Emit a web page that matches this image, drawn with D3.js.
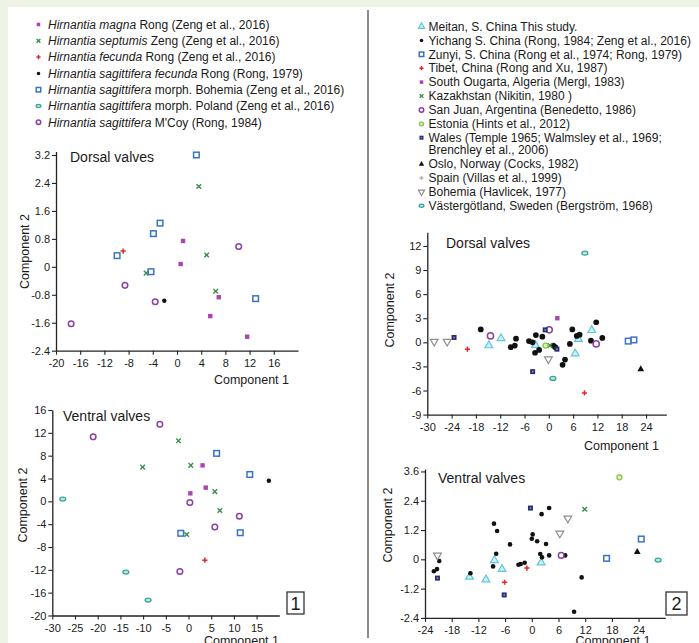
<!DOCTYPE html>
<html>
<head>
<meta charset="utf-8">
<style>
  body { margin: 0; background: #fff; }
  svg text { font-family: "Liberation Sans", Arial, sans-serif; fill: #1a1a1a; }
</style>
</head>
<body>
<script src="https://cdnjs.cloudflare.com/ajax/libs/d3/7.8.5/d3.min.js"></script>
<script>
// ---- legend texts ----
var leftItalic = ["Hirnantia magna", "Hirnantia septumis", "Hirnantia fecunda", "Hirnantia sagittifera fecunda",
                  "Hirnantia sagittifera", "Hirnantia sagittifera", "Hirnantia sagittifera"];
var leftRest = [" Rong (Zeng et al., 2016)", " Zeng (Zeng et al., 2016)", " Rong (Zeng et al., 2016)", " Rong (Rong, 1979)",
                " morph. Bohemia (Zeng et al., 2016)", " morph. Poland (Zeng et al., 2016)", " M'Coy (Rong, 1984)"];
var leftTypes = ["sqFill", "cross", "plus", "dot", "sqOpen", "ellipse", "circOpen"];

var rightLabels = ["Meitan, S. China This study.", "Yichang S. China (Rong, 1984; Zeng et al., 2016)",
  "Zunyi, S. China (Rong et al., 1974; Rong, 1979)", "Tibet, China (Rong and Xu, 1987)",
  "South Ougarta, Algeria (Mergl, 1983)", "Kazakhstan (Nikitin, 1980 )", "San Juan, Argentina (Benedetto, 1986)",
  "Estonia (Hints et al., 2012)", "Wales (Temple 1965; Walmsley et al., 1969;|Brenchley et al., 2006)",
  "Oslo, Norway (Cocks, 1982)", "Spain (Villas et al., 1999)", "Bohemia (Havlicek, 1977)",
  "Västergötland, Sweden (Bergström, 1968)"];
var rightTypes = ["triOpen", "dot", "sqOpen", "plus", "sqFill", "cross", "circOpen", "estonia", "navy", "triFill", "star", "triDown", "ellipse"];

// ---- data: left (species) ----
var leftDorsal = [
  [[1.0,0.74],[0.6,0.08],[6.9,-0.87],[5.5,-1.41],[11.6,-2.0]],
  [[3.6,2.3],[4.9,0.34],[-5.1,-0.18],[6.4,-0.7]],
  [[-8.9,0.45]],
  [[-2.1,-0.97]],
  [[3.2,3.2],[-2.8,1.25],[-3.9,0.95],[-9.9,0.32],[-4.3,-0.14],[13.0,-0.91]],
  [],
  [[10.2,0.58],[-8.6,-0.53],[-3.6,-1.0],[-17.5,-1.63]]
];
var leftVentral = [
  [[3.1,6.3],[3.8,2.4],[0.4,1.4]],
  [[-2.2,10.6],[-10.1,6.0],[0.5,6.3],[5.8,1.7],[6.9,-1.6],[-0.4,-5.8]],
  [[3.6,-10.3]],
  [[17.7,3.6]],
  [[6.2,8.4],[13.5,4.7],[-1.7,-5.6],[11.4,-5.5]],
  [[-27.7,0.4],[-13.8,-12.4],[-8.9,-17.3]],
  [[-6.3,13.5],[-21.0,11.3],[0.3,-0.2],[11.2,-2.6],[5.8,-4.5],[-1.9,-12.3]]
];

// ---- data: right (localities) ----
var rightDorsal = [
  [[-11.8,0.5],[-14.8,-0.4],[-3.3,-0.35],[10.6,1.5],[7.3,0.4],[6.5,-1.4]],
  [[11.7,2.5],[-16.8,1.6],[5.8,1.6],[-8.1,0.45],[-3.2,0.9],[-1.6,0.7],[6.9,0.8],[7.6,0.95],[13.2,0.55],
   [10.4,0.2],[-9.4,-0.6],[-8.4,-0.4],[-4.9,0.15],[-4.0,0.0],[-3.4,-1.3],[-2.4,-0.95],[1.1,-0.4],[1.6,-0.6],
   [5.2,-0.2],[4.0,-2.15],[3.4,-2.8]],
  [[19.6,0.15],[21.0,0.3]],
  [[-20.1,-0.85],[8.8,-6.3]],
  [[2.1,3.0]],
  [[0.3,-0.4]],
  [[-14.4,0.8],[0.1,1.55],[11.7,-0.2]],
  [[-0.8,-0.4]],
  [[-23.4,0.6],[-0.9,1.55],[2.0,-0.85],[-4.0,-3.65]],
  [[22.7,-3.35]],
  [],
  [[-28.3,0.1],[-25.1,0.1],[-0.1,-2.1]],
  [[8.9,11.1],[1.0,-4.5]]
];
var rightVentral = [
  [[-8.4,-0.04],[2.1,-0.14],[-6.7,-0.4],[-14.0,-0.72],[-10.3,-0.83]],
  [[3.9,2.1],[2.2,1.85],[-8.5,1.46],[-7.8,1.16],[0.2,1.02],[0.0,0.84],[1.2,0.74],[-4.9,0.61],[3.2,0.63],
   [-8.0,0.23],[7.5,0.16],[1.9,0.22],[2.3,0.08],[3.9,0.16],[-20.8,-0.07],[-2.5,-0.19],[-3.0,-0.22],
   [-1.6,-0.14],[-8.7,-0.29],[-21.3,-0.4],[-22.0,-0.49],[-13.8,-0.57],[11.2,-0.74],[9.5,-2.15]],
  [[24.6,0.83],[16.8,0.04]],
  [[-1.1,-0.36],[-6.1,-0.94]],
  [],
  [[11.9,2.05]],
  [[6.6,0.16]],
  [[19.7,3.36]],
  [[-0.3,2.1],[-21.2,-0.77],[-6.2,-1.46]],
  [[23.7,0.3]],
  [],
  [[8.1,1.68],[6.3,1.06],[-21.2,0.16]],
  [[28.4,-0.03]]
];

// ---- ticks ----
var p1xTicks = d3.range(-20, 17, 4), p1yTicks = [-2.4,-1.6,-0.8,0,0.8,1.6,2.4,3.2];
var p2xTicks = d3.range(-30, 16, 5), p2yTicks = d3.range(-20, 17, 4);
var p3xTicks = d3.range(-30, 25, 6), p3yTicks = d3.range(-9, 13, 3);
var p4xTicks = d3.range(-24, 25, 6), p4yTicks = [-2.4,-1.2,0,1.2,2.4,3.6];

var svg = d3.select("body").append("svg").attr("width", 699).attr("height", 643);

// frame
svg.append("rect").attr("width", 699).attr("height", 643).attr("fill", "#eef4e5");
svg.append("rect").attr("x", 8).attr("y", 7).attr("width", 691).attr("height", 636).attr("fill", "#fff");
svg.append("line").attr("x1", 368).attr("x2", 368).attr("y1", 10).attr("y2", 638)
   .attr("stroke", "#6e6e6e").attr("stroke-width", 1.6);

var C = { magenta: "#a944b0", green: "#3a8f46", red: "#e3262b", black: "#111", blue: "#3b72c9",
          teal: "#35a398", purple: "#8a3fa3", cyan: "#5ec8dc", lgreen: "#8cc63f", navy: "#2b2d6c", gray: "#8e8e8e" };

function marker(g, type, x, y, s) {
  s = s || 1;
  switch (type) {
    case "sqFill":
      g.append("rect").attr("x", x - 2.2*s).attr("y", y - 2.2*s).attr("width", 4.4*s).attr("height", 4.4*s)
       .attr("fill", C.magenta); break;
    case "cross":
      g.append("path").attr("d", "M"+(x-2.3*s)+","+(y-2.3*s)+"L"+(x+2.3*s)+","+(y+2.3*s)+"M"+(x+2.3*s)+","+(y-2.3*s)+"L"+(x-2.3*s)+","+(y+2.3*s))
       .attr("stroke", C.green).attr("stroke-width", 1.4); break;
    case "plus":
      g.append("path").attr("d", "M"+(x-2.6*s)+","+y+"H"+(x+2.6*s)+"M"+x+","+(y-2.6*s)+"V"+(y+2.6*s))
       .attr("stroke", C.red).attr("stroke-width", 1.5); break;
    case "dot":
      g.append("circle").attr("cx", x).attr("cy", y).attr("r", 2.2*s).attr("fill", C.black); break;
    case "sqOpen":
      g.append("rect").attr("x", x - 2.8*s).attr("y", y - 2.8*s).attr("width", 5.6*s).attr("height", 5.6*s)
       .attr("fill", "#fff").attr("stroke", C.blue).attr("stroke-width", 1.5); break;
    case "ellipse":
      g.append("ellipse").attr("cx", x).attr("cy", y).attr("rx", 3*s).attr("ry", 2*s)
       .attr("fill", "#bfe4df").attr("stroke", C.teal).attr("stroke-width", 1.2); break;
    case "circOpen":
      g.append("circle").attr("cx", x).attr("cy", y).attr("r", 2.8*s)
       .attr("fill", "#fff").attr("stroke", C.purple).attr("stroke-width", 1.5); break;
    case "triOpen":
      g.append("path").attr("d", d3.symbol(d3.symbolTriangle, 26*s*s)()).attr("transform", "translate("+x+","+y+")")
       .attr("fill", "#cdeff5").attr("stroke", C.cyan).attr("stroke-width", 1.2); break;
    case "triFill":
      g.append("path").attr("d", d3.symbol(d3.symbolTriangle, 20*s*s)()).attr("transform", "translate("+x+","+y+")")
       .attr("fill", C.black); break;
    case "triDown":
      g.append("path").attr("d", d3.symbol(d3.symbolTriangle, 26*s*s)()).attr("transform", "translate("+x+","+y+") rotate(180)")
       .attr("fill", "#fff").attr("stroke", C.gray).attr("stroke-width", 1.2); break;
    case "estonia":
      g.append("circle").attr("cx", x).attr("cy", y).attr("r", 2.5*s)
       .attr("fill", "#dff0c8").attr("stroke", C.lgreen).attr("stroke-width", 1.3); break;
    case "navy":
      g.append("rect").attr("x", x - 2.5*s).attr("y", y - 2.5*s).attr("width", 5*s).attr("height", 5*s)
       .attr("fill", C.navy); 
      g.append("rect").attr("x", x - 0.8*s).attr("y", y - 0.8*s).attr("width", 1.6*s).attr("height", 1.6*s)
       .attr("fill", "#8c8fc4"); break;
    case "star":
      g.append("path").attr("d", d3.symbol(d3.symbolCross, 14*s*s)()).attr("transform", "translate("+x+","+y+")")
       .attr("fill", "#b0b0b0"); break;
  }
}

// ---- legends ----
var lg = svg.append("g");
leftItalic.forEach(function (t, i) {
  var y = 24.5 + i * 16.3;
  marker(lg, leftTypes[i], 38.5, y, 0.8);
  var tx = lg.append("text").attr("x", 48).attr("y", y + 4.2).attr("font-size", 12);
  tx.append("tspan").attr("font-style", "italic").text(t);
  tx.append("tspan").text(leftRest[i]);
});
var ry = 26.5;
rightLabels.forEach(function (t, i) {
  var parts = t.split("|");
  marker(lg, rightTypes[i], 421.5, ry, 0.8);
  parts.forEach(function (p, j) {
    lg.append("text").attr("x", 428.5).attr("y", ry + 4.2 + j * 12).attr("font-size", 12).text(p);
  });
  ry += 13.9 + (parts.length - 1) * 12.5;
});

// ---- plots ----
function fmt(d) { return String(+d.toFixed(1)); }

function plot(cfg) {
  var x = d3.scaleLinear().domain(cfg.xd).range(cfg.xr);
  var y = d3.scaleLinear().domain(cfg.yd).range(cfg.yr);
  var g = svg.append("g");
  var ax = g.append("g").attr("transform", "translate(0," + cfg.yr[0] + ")")
    .call(d3.axisBottom(x).tickValues(cfg.xt).tickFormat(fmt).tickSize(4).tickSizeOuter(0));
  var ay = g.append("g").attr("transform", "translate(" + cfg.xr[0] + ",0)")
    .call(d3.axisLeft(y).tickValues(cfg.yt).tickFormat(fmt).tickSize(4).tickSizeOuter(0));
  [ax, ay].forEach(function (a) {
    a.select(".domain").attr("stroke", "#222").attr("stroke-width", 1.3);
    a.selectAll(".tick line").attr("stroke", "#222").attr("stroke-width", 1.1);
    a.selectAll(".tick text").attr("font-size", 11).attr("fill", "#222")
      .attr("font-family", "Liberation Sans, Arial, sans-serif");
  });
  ax.selectAll(".tick text").attr("dy", "0.85em");
  ay.selectAll(".tick text").attr("dx", "0.1em");
  g.append("text").attr("x", cfg.title[0]).attr("y", cfg.title[1]).attr("font-size", 14).text(cfg.titleText);
  g.append("text").attr("x", cfg.xl[0]).attr("y", cfg.xl[1]).attr("font-size", 12.5)
    .attr("text-anchor", "middle").text("Component 1");
  g.append("text").attr("transform", "translate(" + cfg.yl[0] + "," + cfg.yl[1] + ") rotate(-90)")
    .attr("font-size", 12.5).attr("text-anchor", "middle").text("Component 2");
  cfg.data.forEach(function (series, i) {
    series.forEach(function (p) { marker(g, cfg.types[i], x(p[0]), y(p[1]), cfg.s[i]); });
  });
  if (cfg.box) {
    g.append("rect").attr("x", cfg.box[0]).attr("y", cfg.box[1]).attr("width", cfg.box[2]).attr("height", cfg.box[3])
      .attr("fill", "#fff").attr("stroke", "#333").attr("stroke-width", 1.3);
    g.append("text").attr("x", cfg.box[0] + cfg.box[2] / 2).attr("y", cfg.box[1] + cfg.box[3] / 2 + 6.5)
      .attr("text-anchor", "middle").attr("font-size", 18).text(cfg.boxText);
  }
}

var lsz = [1, 1, 1, 1, 1, 1, 1];
plot({ xd: [-20, 20], xr: [56, 298], yd: [-2.4, 3.3], yr: [350.7, 151.5], xt: p1xTicks, yt: p1yTicks,
  title: [70, 161.5], titleText: "Dorsal valves", xl: [251.5, 384], yl: [29, 251.5],
  data: leftDorsal, types: leftTypes, s: lsz });
plot({ xd: [-30, 20], xr: [52.3, 279.3], yd: [-20, 16], yr: [615.5, 410], xt: p2xTicks, yt: p2yTicks,
  title: [63, 421], titleText: "Ventral valves", xl: [241.5, 645], yl: [27, 505],
  data: leftVentral, types: leftTypes, s: lsz, box: [287, 592, 17, 22], boxText: "1" });
plot({ xd: [-30, 29], xr: [427.3, 666.3], yd: [-9, 13.7], yr: [414.6, 232.3], xt: p3xTicks, yt: p3yTicks,
  title: [446, 247.5], titleText: "Dorsal valves", xl: [621.5, 450], yl: [394, 310],
  data: rightDorsal, types: rightTypes, s: [1, 1.3, 1, 1, 1, 1, 1.1, 1, 1, 1, 1, 1, 1] });
plot({ xd: [-24, 30], xr: [425, 665.3], yd: [-2.4, 3.7], yr: [617.9, 469], xt: p4xTicks, yt: p4yTicks,
  title: [438, 482.5], titleText: "Ventral valves", xl: [613, 645], yl: [392, 525],
  data: rightVentral, types: rightTypes, s: [1, 1.05, 1, 1, 1, 1, 1, 1, 1, 1, 1, 1, 1],
  box: [666, 592, 21, 23], boxText: "2" });
</script>
</body>
</html>
